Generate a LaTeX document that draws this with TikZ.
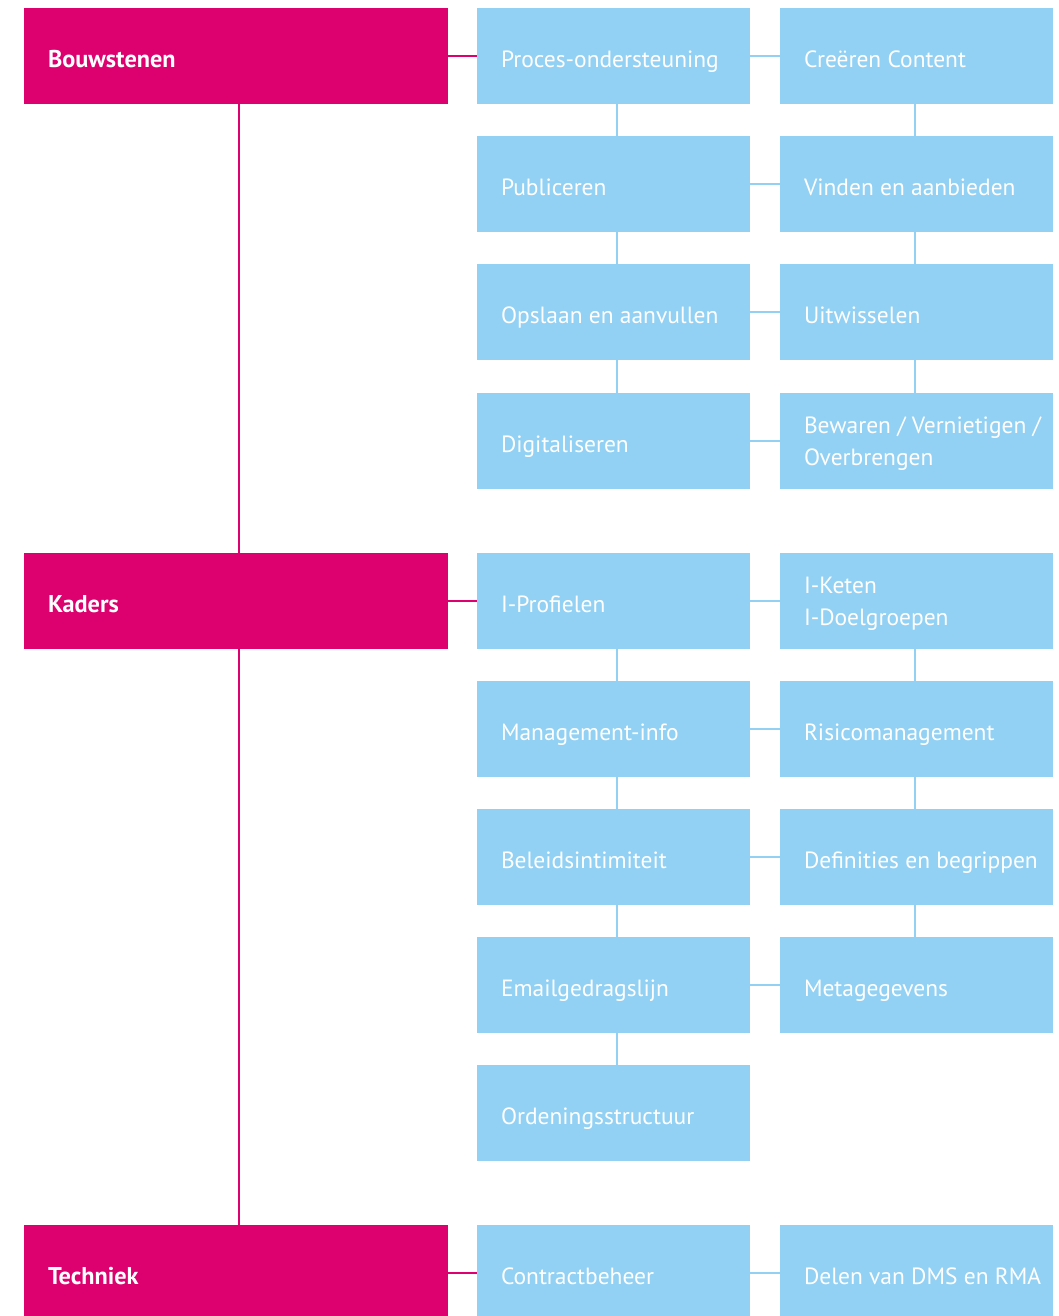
\documentclass[tikz,border=0pt]{standalone}
\usepackage{fontspec}
\setmainfont{PT Sans}
\definecolor{roze}{RGB}{221,0,111}
\definecolor{lichtblauw}{RGB}{146,209,243}
\tikzset{
  hoofd/.style={fill=roze, minimum width=318pt, minimum height=72pt, inner sep=0pt},
  blok/.style={fill=lichtblauw, minimum width=204.75pt, minimum height=72pt, inner sep=0pt},
  tekst/.style={anchor=west, inner xsep=18pt, inner ysep=0pt, yshift=-3.5pt, text=white, align=left,
    execute at begin node=\strut, execute at end node=\strut},
  hoofdtekst/.style={tekst, font=\fontsize{18.2}{24}\selectfont\bfseries},
  bloktekst/.style={tekst, font=\fontsize{17.6}{24}\selectfont},
  rozelijn/.style={draw=roze, line width=1.5pt},
  blauwlijn/.style={draw=lichtblauw, line width=1.5pt}
}
\begin{document}
\begin{tikzpicture}[x=0.75pt, y=-0.75pt]
\useasboundingbox (0,0) rectangle (1058,1316);

% hoofdgroepen
\node[hoofd, label={[hoofdtekst]west:Bouwstenen}] (bouw) at (236,56) {};
\node[hoofd, label={[hoofdtekst]west:Kaders}] (kad) at (236,601) {};
\node[hoofd, label={[hoofdtekst]west:Techniek}] (tech) at (236,1273) {};

% bouwstenen
\node[blok, label={[bloktekst]west:Proces-ondersteuning}] (proc) at (613.5,56) {};
\node[blok, label={[bloktekst]west:Creëren Content}] (creer) at (916.5,56) {};
\node[blok, label={[bloktekst]west:Publiceren}] (publ) at (613.5,184) {};
\node[blok, label={[bloktekst]west:Vinden en aanbieden}] (vind) at (916.5,184) {};
\node[blok, label={[bloktekst]west:Opslaan en aanvullen}] (opsl) at (613.5,312) {};
\node[blok, label={[bloktekst]west:Uitwisselen}] (uitw) at (916.5,312) {};
\node[blok, label={[bloktekst]west:Digitaliseren}] (digi) at (613.5,441) {};
\node[blok, label={[bloktekst]west:Bewaren / Vernietigen /\\Overbrengen}] (bewa) at (916.5,441) {};

% kaders
\node[blok, label={[bloktekst]west:I-Profielen}] (prof) at (613.5,601) {};
\node[blok, label={[bloktekst]west:I-Keten\\I-Doelgroepen}] (ket) at (916.5,601) {};
\node[blok, label={[bloktekst]west:Management-info}] (mana) at (613.5,729) {};
\node[blok, label={[bloktekst]west:Risicomanagement}] (risi) at (916.5,729) {};
\node[blok, label={[bloktekst]west:Beleidsintimiteit}] (bele) at (613.5,857) {};
\node[blok, label={[bloktekst]west:Definities en begrippen}] (defi) at (916.5,857) {};
\node[blok, label={[bloktekst]west:Emailgedragslijn}] (emai) at (613.5,985) {};
\node[blok, label={[bloktekst]west:Metagegevens}] (meta) at (916.5,985) {};
\node[blok, label={[bloktekst]west:Ordeningsstructuur}] (orde) at (613.5,1113) {};

% techniek
\node[blok, label={[bloktekst]west:Contractbeheer}] (cont) at (613.5,1273) {};
\node[blok, label={[bloktekst]west:Delen van DMS en RMA}] (dele) at (916.5,1273) {};

% verbindingen hoofdgroepen
\draw[rozelijn, transform canvas={xshift=2.25pt}] (bouw) -- (kad) -- (tech);
\draw[rozelijn] (bouw) -- (proc);
\draw[rozelijn] (kad) -- (prof);
\draw[rozelijn] (tech) -- (cont);

% verbindingen blokken
\draw[blauwlijn] (proc) -- (creer);
\draw[blauwlijn] (publ) -- (vind);
\draw[blauwlijn] (opsl) -- (uitw);
\draw[blauwlijn] (digi) -- (bewa);
\draw[blauwlijn, transform canvas={xshift=2.25pt}] (proc) -- (publ) -- (opsl) -- (digi);
\draw[blauwlijn, transform canvas={xshift=-0.9pt}] (creer) -- (vind) -- (uitw) -- (bewa);

\draw[blauwlijn] (prof) -- (ket);
\draw[blauwlijn] (mana) -- (risi);
\draw[blauwlijn] (bele) -- (defi);
\draw[blauwlijn] (emai) -- (meta);
\draw[blauwlijn, transform canvas={xshift=2.25pt}] (prof) -- (mana) -- (bele) -- (emai) -- (orde);
\draw[blauwlijn, transform canvas={xshift=-0.9pt}] (ket) -- (risi) -- (defi) -- (meta);

\draw[blauwlijn] (cont) -- (dele);
\end{tikzpicture}
\end{document}
